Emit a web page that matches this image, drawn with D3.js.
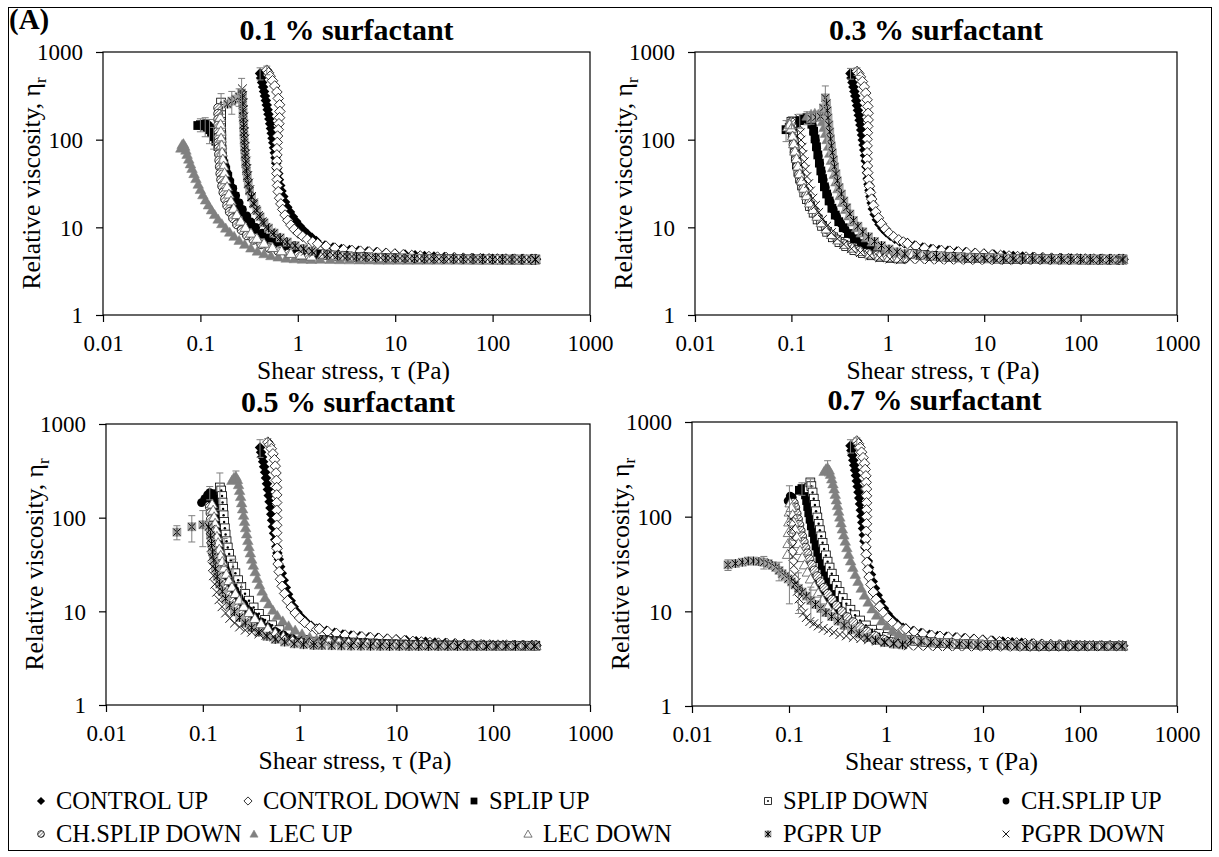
<!DOCTYPE html>
<html>
<head>
<meta charset="utf-8">
<script src="https://cdn.jsdelivr.net/npm/d3@7"></script>
<style>
body { margin: 0; background: #fff; }
text { font-family: "Liberation Serif", "Times New Roman", serif; fill: #000; }
</style>
</head>
<body>
<svg id="chart" width="1219" height="857"></svg>
<script>
// ---- labels ----
const seriesNames = ["CONTROL UP", "CONTROL DOWN", "SPLIP UP", "SPLIP DOWN", "CH.SPLIP UP",
  "CH.SPLIP DOWN", "LEC UP", "LEC DOWN", "PGPR UP", "PGPR DOWN"];
const seriesKeys = ["cu", "cd", "su", "sd", "chu", "chd", "lu", "ld", "pu", "pd"];
const panelTitles = ["0.1 % surfactant", "0.3 % surfactant", "0.5 % surfactant", "0.7 % surfactant"];
const xTicks = [0.01, 0.1, 1, 10, 100, 1000];
const xTickLabels = ["0.01", "0.1", "1", "10", "100", "1000"];
const yTicks = [1, 10, 100, 1000];
const yTickLabels = ["1", "10", "100", "1000"];

// ---- plateau parts (tau Pa, eta_r), where the curves run together ----
const tailCtl = [[1.6,6.6],[1.9,6.2],[2.3,5.9],[2.8,5.65],[3.4,5.5],[4.2,5.4],[5.2,5.3],[6.4,5.2],[8,5.1],[10,5],[12.6,4.9],[16,4.8],[20,4.72],[25,4.65],[32,4.58],[40,4.52],[50,4.47],[63,4.43],[80,4.4],[100,4.38],[126,4.36],[160,4.35],[200,4.34],[250,4.33],[278,4.33]];
const tailCtl2 = [[1.6,6.5],[1.95,6.1],[2.4,5.8],[2.95,5.58],[3.6,5.45],[4.4,5.35],[5.4,5.25],[6.6,5.15],[8.1,5.05],[9.9,4.96],[12.1,4.87],[14.8,4.78],[18.1,4.71],[22.2,4.64],[27.2,4.58],[33.3,4.53],[40.8,4.49],[50,4.45],[61,4.42],[75,4.4],[92,4.38],[112,4.36],[137,4.35],[168,4.34],[206,4.33],[252,4.33],[275,4.33]];
const tailA = [[1.8,4.95],[2.3,4.82],[2.9,4.72],[3.6,4.65],[4.5,4.59],[5.7,4.54],[7.1,4.5],[8.9,4.46],[11.2,4.43],[14.1,4.4],[17.8,4.38],[22.4,4.36],[28.2,4.34],[35.5,4.33],[44.7,4.32],[56,4.31],[71,4.3],[89,4.3],[112,4.29],[141,4.29],[178,4.29],[224,4.29],[272,4.3]];
const tailB = [[2,4.85],[2.55,4.74],[3.2,4.66],[4,4.6],[5,4.55],[6.3,4.5],[8,4.47],[10,4.44],[12.6,4.41],[15.8,4.39],[19.9,4.37],[25,4.35],[31.6,4.34],[39.8,4.33],[50,4.32],[63,4.31],[79,4.3],[100,4.3],[126,4.3],[158,4.29],[199,4.29],[250,4.29],[275,4.3]];
const tailLow = [[1.7,4.32],[2.15,4.3],[2.7,4.28],[3.4,4.26],[4.3,4.25],[5.4,4.24],[6.8,4.23],[8.5,4.22],[10.7,4.22],[13.5,4.21],[17,4.21],[21.4,4.21],[27,4.21],[34,4.21],[42.7,4.21],[53.8,4.21],[67.7,4.21],[85,4.22],[107,4.22],[135,4.23],[170,4.23],[214,4.24],[265,4.25]];

// ---- 0.1 % surfactant ----
const p1CtrlUp = [[0.41,570],[0.42,505],[0.43,450],[0.44,400],[0.45,355],[0.46,315],[0.47,280],[0.48,248],[0.49,220],[0.5,195],[0.51,172],[0.52,152],[0.53,134],[0.54,118],[0.55,104],[0.56,92],[0.57,81],[0.58,71],[0.59,62],[0.6,54],[0.61,47],[0.63,41],[0.64,35],[0.66,30],[0.68,26],[0.71,22.5],[0.74,19.5],[0.78,17],[0.83,15],[0.89,13.2],[0.96,11.7],[1.04,10.4],[1.14,9.3],[1.26,8.4],[1.4,7.6],[1.55,7]];
const p1CtrlDown = [[0.48,620],[0.5,580],[0.52,530],[0.55,470],[0.58,410],[0.61,350],[0.63,295],[0.65,250],[0.655,210],[0.65,178],[0.64,152],[0.63,130],[0.62,110],[0.615,93],[0.61,79],[0.61,67],[0.61,57],[0.61,48],[0.61,41],[0.615,35],[0.62,30],[0.63,25.5],[0.65,21.5],[0.67,18.5],[0.7,16],[0.74,13.8],[0.79,12],[0.85,10.6],[0.92,9.5],[1.01,8.6],[1.12,7.9],[1.25,7.3],[1.42,6.8]];
const p1SplipUp = [[0.094,145],[0.1,148],[0.106,146],[0.112,143],[0.118,138],[0.124,130],[0.13,120],[0.137,108],[0.144,96],[0.151,84],[0.158,72],[0.166,62],[0.174,53],[0.182,45],[0.191,38],[0.2,32],[0.212,27],[0.226,22.5],[0.242,18.7],[0.262,15.6],[0.286,13.1],[0.315,11.1],[0.35,9.6],[0.4,8.4],[0.46,7.5],[0.54,6.7],[0.65,6.1],[0.8,5.6],[1,5.3],[1.3,5.05],[1.6,4.95]];
const p1SplipDown = [[0.163,265],[0.163,225],[0.163,190],[0.163,160],[0.163,135],[0.164,112],[0.164,93],[0.165,77],[0.166,64],[0.168,53],[0.17,44],[0.174,36],[0.179,30],[0.186,25],[0.195,20.8],[0.207,17.3],[0.224,14.4],[0.246,12],[0.275,10.1],[0.315,8.7],[0.37,7.6],[0.44,6.7],[0.54,6.05],[0.67,5.55],[0.85,5.2],[1.1,4.98],[1.4,4.88]];
const p1ChSplipUp = [[0.105,150],[0.11,152],[0.116,150],[0.122,145],[0.128,136],[0.134,125],[0.14,112],[0.147,98],[0.154,85],[0.162,72],[0.17,60],[0.18,50],[0.19,41],[0.2,34],[0.215,28],[0.23,23],[0.25,19],[0.27,16],[0.3,13.5],[0.33,11.5],[0.37,10],[0.43,8.6],[0.5,7.6],[0.6,6.8],[0.75,6.1],[0.95,5.6],[1.2,5.2],[1.5,5]];
const p1ChSplipDown = [[0.152,230],[0.152,198],[0.152,170],[0.152,146],[0.152,126],[0.153,108],[0.153,93],[0.154,80],[0.155,68],[0.156,58],[0.158,49],[0.16,41],[0.163,35],[0.167,29.5],[0.172,25],[0.179,21],[0.188,17.7],[0.2,15],[0.216,12.7],[0.237,10.8],[0.265,9.3],[0.3,8.1],[0.35,7.2],[0.42,6.4],[0.51,5.8],[0.63,5.35],[0.8,5],[1.02,4.8],[1.3,4.65]];
const p1LecUp = [[0.063,80],[0.065,88],[0.067,90],[0.069,84],[0.071,76],[0.073,68],[0.076,60],[0.079,53],[0.082,47],[0.086,41],[0.09,36],[0.095,31],[0.1,27],[0.106,23.5],[0.113,20.5],[0.121,18],[0.13,15.8],[0.14,14],[0.152,12.4],[0.166,11],[0.182,9.8],[0.2,8.8],[0.222,7.9],[0.25,7.1],[0.285,6.4],[0.33,5.8],[0.385,5.35],[0.45,5],[0.53,4.75],[0.63,4.58],[0.76,4.45],[0.92,4.38],[1.12,4.33],[1.38,4.3]];
const p1LecDown = [[0.16,180],[0.161,150],[0.162,125],[0.163,104],[0.165,87],[0.167,72],[0.17,60],[0.173,50],[0.177,42],[0.182,35],[0.188,29],[0.196,24],[0.206,20],[0.22,16.5],[0.237,14],[0.26,11.8],[0.29,10],[0.33,8.6],[0.38,7.5],[0.45,6.6],[0.55,5.9],[0.68,5.4],[0.85,5.05],[1.08,4.85],[1.38,4.7]];
const p1PgprUp = [[0.19,255],[0.21,275],[0.23,290],[0.25,310],[0.265,340],[0.27,300],[0.272,250],[0.274,205],[0.276,168],[0.278,138],[0.28,113],[0.282,93],[0.285,77],[0.288,64],[0.292,53],[0.297,44],[0.303,37],[0.31,31],[0.32,26],[0.335,22],[0.355,18.5],[0.38,15.5],[0.41,13.2],[0.45,11.3],[0.5,9.8],[0.57,8.6],[0.66,7.6],[0.78,6.8],[0.94,6.2],[1.15,5.7],[1.4,5.35]];
const p1PgprDown = [[0.27,380],[0.272,320],[0.274,265],[0.276,220],[0.278,182],[0.28,150],[0.282,124],[0.285,102],[0.288,84],[0.291,69],[0.295,57],[0.3,47],[0.306,39],[0.313,32],[0.322,27],[0.335,22.5],[0.35,19],[0.37,16],[0.395,13.6],[0.43,11.6],[0.47,10],[0.53,8.7],[0.6,7.7],[0.7,6.9],[0.83,6.2],[1,5.7],[1.2,5.35],[1.45,5.1]];
const p1Err = [[0.1,148,25],[0.112,143,35],[0.124,130,40],[0.163,265,70],[0.21,275,80],[0.25,310,70],[0.265,340,160],[0.41,570,90],[0.48,620,70],[0.158,72,25],[0.137,108,30]];

// ---- 0.3 % surfactant ----
const p2CtrlUp = [[0.41,570],[0.42,505],[0.43,450],[0.44,400],[0.45,355],[0.46,315],[0.47,278],[0.48,245],[0.49,216],[0.5,190],[0.51,167],[0.52,147],[0.53,129],[0.54,113],[0.55,99],[0.56,87],[0.57,76],[0.58,66],[0.59,57],[0.6,49],[0.61,42],[0.62,36],[0.63,31],[0.645,26.5],[0.66,22.5],[0.68,19],[0.7,16.2],[0.73,14],[0.77,12.2],[0.82,10.8],[0.88,9.7],[0.96,8.8],[1.06,8],[1.18,7.4],[1.33,6.9],[1.5,6.6]];
const p2CtrlDown = [[0.48,600],[0.5,570],[0.52,520],[0.545,460],[0.57,400],[0.59,340],[0.61,285],[0.62,240],[0.625,200],[0.625,168],[0.62,142],[0.615,120],[0.61,101],[0.61,85],[0.61,71],[0.61,60],[0.615,50],[0.62,42],[0.63,35],[0.645,29.5],[0.66,25],[0.68,21],[0.71,17.8],[0.75,15],[0.8,12.8],[0.86,11],[0.94,9.6],[1.03,8.6],[1.15,7.8],[1.3,7.2],[1.45,6.8]];
const p2SplipUp = [[0.088,130],[0.095,138],[0.103,146],[0.112,155],[0.122,165],[0.133,172],[0.145,178],[0.155,170],[0.163,150],[0.17,125],[0.176,102],[0.182,83],[0.188,67],[0.195,54],[0.202,44],[0.21,36],[0.22,29],[0.232,24],[0.246,20],[0.263,16.5],[0.285,13.8],[0.31,11.6],[0.345,9.9],[0.39,8.5],[0.45,7.4],[0.53,6.5],[0.64,5.9],[0.78,5.4],[0.97,5.05],[1.2,4.85],[1.5,4.7]];
const p2SplipDown = [[0.1,160],[0.102,135],[0.104,112],[0.106,92],[0.108,76],[0.111,63],[0.114,52],[0.118,43],[0.123,36],[0.129,30],[0.136,25],[0.145,21],[0.156,17.5],[0.17,14.7],[0.187,12.3],[0.208,10.4],[0.235,8.9],[0.27,7.7],[0.315,6.8],[0.37,6.1],[0.45,5.5],[0.55,5.1],[0.68,4.8],[0.85,4.6],[1.07,4.48],[1.35,4.4]];
const p2ChSplipUp = [[0.14,175],[0.15,180],[0.158,168],[0.165,145],[0.171,120],[0.177,98],[0.183,80],[0.19,65],[0.197,53],[0.205,43],[0.214,35],[0.225,28.5],[0.238,23.5],[0.253,19.5],[0.272,16],[0.295,13.3],[0.325,11.2],[0.36,9.6],[0.41,8.3],[0.47,7.3],[0.56,6.5],[0.68,5.9],[0.83,5.4],[1.03,5.05],[1.3,4.85]];
const p2ChSplipDown = [[0.1,158],[0.101,130],[0.103,107],[0.105,88],[0.108,72],[0.111,59],[0.115,49],[0.12,40],[0.126,33],[0.133,27.5],[0.142,23],[0.153,19],[0.166,16],[0.182,13.4],[0.202,11.3],[0.228,9.6],[0.26,8.3],[0.3,7.3],[0.35,6.5],[0.42,5.9],[0.51,5.4],[0.63,5.05],[0.78,4.8],[0.98,4.62],[1.23,4.5],[1.5,4.42]];
const p2LecUp = [[0.145,185],[0.16,195],[0.175,200],[0.19,195],[0.2,180],[0.21,160],[0.218,138],[0.226,118],[0.234,100],[0.242,84],[0.25,70],[0.259,58],[0.268,48],[0.278,40],[0.29,33],[0.304,27.5],[0.32,23],[0.34,19.2],[0.365,16],[0.395,13.5],[0.43,11.5],[0.475,9.9],[0.53,8.6],[0.6,7.6],[0.69,6.8],[0.8,6.1],[0.95,5.6],[1.13,5.2],[1.35,4.95]];
const p2LecDown = [[0.092,140],[0.096,150],[0.1,135],[0.103,110],[0.106,90],[0.109,74],[0.113,61],[0.117,50],[0.122,41],[0.128,34],[0.135,28],[0.144,23],[0.155,19],[0.168,16],[0.185,13.4],[0.205,11.3],[0.23,9.6],[0.262,8.3],[0.305,7.2],[0.36,6.4],[0.43,5.8],[0.52,5.3],[0.65,4.95],[0.82,4.7],[1.03,4.55],[1.3,4.45]];
const p2PgprUp = [[0.16,175],[0.18,180],[0.2,185],[0.215,230],[0.225,300],[0.232,260],[0.236,215],[0.24,178],[0.245,148],[0.25,123],[0.255,102],[0.26,85],[0.266,71],[0.273,59],[0.28,49],[0.29,41],[0.3,34],[0.313,28.5],[0.33,24],[0.35,20],[0.375,16.8],[0.405,14.2],[0.44,12],[0.49,10.3],[0.55,8.9],[0.63,7.8],[0.73,6.9],[0.86,6.2],[1.03,5.65],[1.25,5.25],[1.5,5]];
const p2PgprDown = [[0.12,175],[0.122,145],[0.124,120],[0.126,99],[0.129,82],[0.132,68],[0.136,56],[0.14,46],[0.145,38],[0.151,31.5],[0.158,26],[0.167,21.5],[0.178,17.8],[0.192,14.8],[0.21,12.3],[0.232,10.3],[0.26,8.7],[0.3,7.4],[0.35,6.4],[0.42,5.7],[0.52,5.15],[0.65,4.75],[0.82,4.5],[1.05,4.35],[1.35,4.27]];
const p2Err = [[0.088,130,35],[0.1,158,25],[0.122,165,30],[0.145,178,30],[0.16,175,25],[0.2,185,20],[0.225,300,110],[0.41,570,80],[0.48,600,60]];

// ---- 0.5 % surfactant ----
const p3CtrlUp = [[0.39,560],[0.4,500],[0.41,445],[0.42,395],[0.43,350],[0.44,305],[0.45,265],[0.46,230],[0.47,200],[0.48,172],[0.49,148],[0.5,127],[0.51,109],[0.52,94],[0.53,80],[0.545,68],[0.56,58],[0.575,49],[0.59,42],[0.61,36],[0.63,30],[0.655,25.5],[0.685,21.5],[0.72,18],[0.76,15.2],[0.81,13],[0.87,11.2],[0.95,9.8],[1.05,8.6],[1.17,7.7],[1.32,7],[1.5,6.5]];
const p3CtrlDown = [[0.47,640],[0.49,600],[0.51,545],[0.53,480],[0.55,415],[0.56,355],[0.57,300],[0.575,250],[0.58,210],[0.58,175],[0.58,145],[0.58,120],[0.58,100],[0.58,83],[0.58,69],[0.58,57],[0.585,47],[0.59,39],[0.6,32],[0.615,26.5],[0.635,22],[0.66,18.5],[0.7,15.5],[0.75,13],[0.82,11.1],[0.9,9.6],[1,8.5],[1.13,7.6],[1.3,6.9],[1.5,6.4]];
const p3SplipUp = [[0.12,165],[0.128,180],[0.135,175],[0.14,155],[0.144,132],[0.148,112],[0.152,95],[0.156,80],[0.161,68],[0.166,57],[0.172,48],[0.179,40],[0.188,34],[0.198,28.5],[0.21,24],[0.225,20.2],[0.244,17],[0.267,14.4],[0.295,12.2],[0.33,10.4],[0.375,9],[0.43,7.9],[0.5,7],[0.6,6.2],[0.73,5.6],[0.9,5.2],[1.12,4.95],[1.4,4.75]];
const p3SplipDown = [[0.15,210],[0.155,195],[0.158,170],[0.16,145],[0.162,124],[0.164,106],[0.166,90],[0.169,77],[0.172,66],[0.176,56],[0.181,48],[0.187,41],[0.195,35],[0.205,30],[0.217,25.5],[0.232,21.5],[0.25,18.2],[0.273,15.4],[0.3,13],[0.335,11],[0.38,9.4],[0.44,8.1],[0.52,7.1],[0.62,6.3],[0.75,5.7],[0.92,5.25],[1.15,4.95],[1.45,4.75]];
const p3ChSplipUp = [[0.097,145],[0.105,160],[0.112,175],[0.118,185],[0.122,170],[0.125,150],[0.128,128],[0.131,108],[0.134,91],[0.137,77],[0.141,65],[0.145,55],[0.15,46],[0.156,39],[0.163,33],[0.172,28],[0.183,23.5],[0.197,19.8],[0.215,16.7],[0.237,14.1],[0.265,12],[0.3,10.2],[0.345,8.8],[0.4,7.7],[0.47,6.8],[0.56,6.1],[0.68,5.6],[0.83,5.2],[1.03,4.95],[1.28,4.75]];
const p3ChSplipDown = [[0.118,130],[0.12,112],[0.121,96],[0.122,82],[0.123,70],[0.124,60],[0.126,51],[0.128,44],[0.131,38],[0.135,32.5],[0.14,28],[0.147,24],[0.155,20.5],[0.166,17.5],[0.18,15],[0.197,12.8],[0.218,11],[0.245,9.5],[0.28,8.2],[0.325,7.2],[0.38,6.4],[0.45,5.8],[0.55,5.3],[0.68,4.95],[0.85,4.7],[1.07,4.55],[1.35,4.45]];
const p3LecUp = [[0.2,250],[0.21,270],[0.22,275],[0.228,255],[0.234,225],[0.24,195],[0.246,168],[0.252,144],[0.258,124],[0.264,106],[0.27,91],[0.277,78],[0.284,67],[0.292,57],[0.3,49],[0.31,42],[0.32,36],[0.333,31],[0.348,26.5],[0.365,22.5],[0.385,19.2],[0.41,16.4],[0.44,14],[0.48,12],[0.53,10.3],[0.59,9],[0.67,7.9],[0.77,7],[0.9,6.3],[1.06,5.75],[1.27,5.3],[1.5,5]];
const p3LecDown = [[0.125,140],[0.128,120],[0.131,102],[0.134,87],[0.137,74],[0.14,63],[0.144,54],[0.148,46],[0.153,39.5],[0.159,34],[0.166,29],[0.175,25],[0.186,21.3],[0.2,18.2],[0.217,15.5],[0.238,13.2],[0.265,11.3],[0.3,9.7],[0.345,8.4],[0.4,7.4],[0.47,6.6],[0.56,5.9],[0.68,5.4],[0.84,5],[1.05,4.75],[1.32,4.6]];
const p3PgprUp = [[0.054,70],[0.077,80],[0.1,84],[0.115,80],[0.12,65],[0.123,53],[0.126,43],[0.13,35],[0.135,28.5],[0.141,23.5],[0.149,19.5],[0.159,16.3],[0.172,13.7],[0.19,11.6],[0.212,9.9],[0.24,8.6],[0.275,7.5],[0.32,6.7],[0.38,6],[0.46,5.4],[0.56,5],[0.7,4.7],[0.88,4.5],[1.1,4.4],[1.4,4.32]];
const p3PgprDown = [[0.12,75],[0.121,60],[0.122,48],[0.124,38],[0.126,30],[0.129,24],[0.133,19.5],[0.139,16],[0.147,13.3],[0.158,11.2],[0.172,9.6],[0.19,8.4],[0.213,7.5],[0.24,6.8],[0.275,6.3],[0.32,6],[0.38,5.75],[0.45,5.55],[0.54,5.35],[0.65,5.15],[0.78,5],[0.95,4.85],[1.15,4.72],[1.4,4.62]];
const p3Err = [[0.054,70,12],[0.077,80,25],[0.1,84,35],[0.15,210,90],[0.22,275,40],[0.39,560,120],[0.47,640,60],[0.118,185,30],[0.166,45,15],[0.205,28,8],[0.25,16,4]];

// ---- 0.7 % surfactant ----
const p4CtrlUp = [[0.43,560],[0.44,500],[0.45,445],[0.46,395],[0.47,350],[0.48,310],[0.49,272],[0.5,238],[0.51,208],[0.52,181],[0.53,157],[0.54,136],[0.55,117],[0.56,101],[0.57,87],[0.58,75],[0.59,64],[0.6,55],[0.615,47],[0.63,40],[0.65,34],[0.67,29],[0.7,24.5],[0.73,20.7],[0.77,17.5],[0.82,14.8],[0.88,12.6],[0.95,10.8],[1.04,9.4],[1.15,8.3],[1.3,7.4],[1.5,6.7]];
const p4CtrlDown = [[0.5,630],[0.52,590],[0.54,540],[0.56,480],[0.58,420],[0.6,365],[0.61,315],[0.62,270],[0.625,230],[0.63,196],[0.63,166],[0.63,140],[0.63,118],[0.63,100],[0.63,84],[0.625,70],[0.62,58],[0.62,48],[0.625,40],[0.635,33],[0.65,27.5],[0.67,23],[0.7,19.2],[0.74,16],[0.79,13.4],[0.86,11.3],[0.94,9.7],[1.04,8.5],[1.17,7.6],[1.33,6.9],[1.5,6.4]];
const p4SplipUp = [[0.128,190],[0.136,198],[0.143,190],[0.148,170],[0.152,148],[0.156,128],[0.16,110],[0.165,94],[0.17,80],[0.176,68],[0.183,58],[0.19,49],[0.198,42],[0.208,36],[0.22,30.5],[0.234,26],[0.25,22],[0.27,18.7],[0.295,15.8],[0.325,13.4],[0.36,11.4],[0.405,9.8],[0.46,8.5],[0.53,7.4],[0.62,6.6],[0.74,5.9],[0.9,5.4],[1.1,5.05],[1.35,4.8]];
const p4SplipDown = [[0.16,200],[0.166,230],[0.17,210],[0.175,180],[0.18,155],[0.185,133],[0.19,114],[0.196,98],[0.202,84],[0.208,72],[0.215,62],[0.222,53],[0.23,45.5],[0.24,39],[0.25,33.5],[0.262,29],[0.276,25],[0.292,21.5],[0.31,18.5],[0.332,16],[0.358,13.8],[0.39,12],[0.43,10.4],[0.48,9.1],[0.54,8],[0.62,7.1],[0.72,6.4],[0.85,5.8],[1.02,5.35],[1.23,5.05],[1.5,4.82]];
const p4ChSplipUp = [[0.098,147],[0.103,165],[0.108,160],[0.112,140],[0.115,120],[0.118,102],[0.121,87],[0.125,74],[0.129,63],[0.134,54],[0.14,46],[0.147,39.5],[0.155,34],[0.165,29],[0.177,25],[0.191,21.5],[0.208,18.5],[0.228,16],[0.253,13.8],[0.283,11.9],[0.32,10.3],[0.365,9],[0.42,7.9],[0.49,7],[0.58,6.2],[0.7,5.6],[0.85,5.15],[1.05,4.85],[1.3,4.65]];
const p4ChSplipDown = [[0.112,140],[0.116,125],[0.12,108],[0.124,94],[0.128,82],[0.132,71],[0.137,62],[0.142,54],[0.148,47],[0.155,41],[0.163,35.5],[0.172,31],[0.183,27],[0.196,23.5],[0.212,20.4],[0.23,17.7],[0.252,15.3],[0.278,13.3],[0.31,11.5],[0.35,10],[0.4,8.7],[0.46,7.7],[0.54,6.8],[0.64,6.1],[0.77,5.5],[0.94,5.05],[1.15,4.75],[1.42,4.55]];
const p4LecUp = [[0.23,300],[0.24,320],[0.25,330],[0.26,310],[0.268,280],[0.276,250],[0.284,222],[0.292,196],[0.3,172],[0.308,150],[0.316,131],[0.325,114],[0.334,99],[0.344,86],[0.355,74],[0.367,64],[0.38,55],[0.395,47],[0.412,40],[0.432,34],[0.455,29],[0.482,24.5],[0.515,20.7],[0.555,17.5],[0.6,14.8],[0.655,12.5],[0.72,10.6],[0.8,9.1],[0.9,7.9],[1.02,7],[1.17,6.3],[1.35,5.75],[1.55,5.35]];
const p4LecDown = [[0.097,40],[0.098,52],[0.099,68],[0.1,88],[0.101,112],[0.103,140],[0.106,125],[0.109,105],[0.112,88],[0.116,74],[0.12,62],[0.125,52],[0.13,44],[0.137,37],[0.145,31],[0.155,26],[0.167,22],[0.182,18.5],[0.2,15.6],[0.222,13.2],[0.25,11.2],[0.285,9.6],[0.33,8.3],[0.39,7.2],[0.46,6.4],[0.55,5.8],[0.67,5.3],[0.82,4.95],[1.02,4.7],[1.28,4.55]];
const p4PgprUp = [[0.0235,31],[0.028,32],[0.033,33],[0.038,34],[0.043,34],[0.049,33.5],[0.055,33],[0.061,32],[0.067,30.5],[0.073,29],[0.079,27],[0.085,25],[0.091,23.5],[0.098,22],[0.106,20.5],[0.115,19],[0.125,17.5],[0.137,16],[0.151,14.5],[0.168,13],[0.188,11.8],[0.212,10.7],[0.24,9.7],[0.275,8.8],[0.32,7.9],[0.37,7.1],[0.44,6.4],[0.53,5.8],[0.64,5.3],[0.78,4.95],[0.96,4.7],[1.2,4.52],[1.48,4.42]];
const p4PgprDown = [[0.105,95],[0.106,75],[0.107,60],[0.108,48],[0.11,38],[0.112,30.5],[0.115,24.5],[0.118,20],[0.122,16.3],[0.127,13.5],[0.133,11.3],[0.141,9.6],[0.151,8.6],[0.164,7.8],[0.18,7.4],[0.2,7],[0.225,6.6],[0.255,6.3],[0.29,6],[0.335,5.7],[0.39,5.5],[0.46,5.3],[0.55,5.15],[0.66,5],[0.8,4.85],[0.98,4.72],[1.2,4.6],[1.48,4.5]];
const p4Err = [[0.0235,31,4],[0.055,33,5],[0.079,27,6],[0.101,112,100],[0.136,198,30],[0.166,230,20],[0.25,330,60],[0.43,560,90],[0.5,630,50],[0.168,13,5],[0.212,10.7,4],[0.125,17.5,8]];

// ---- layout ----
const panelBoxes = [
  { l: 103, r: 590, t: 52, b: 315 },
  { l: 695, r: 1177, t: 52, b: 315 },
  { l: 106, r: 590, t: 424, b: 705 },
  { l: 692, r: 1177, t: 422, b: 706 }
];
const legendPos = [[41, 0], [248, 0], [474, 0], [768, 0], [1006, 0], [41, 1], [254, 1], [528, 1], [768, 1], [1006, 1]];
const legendRowY = [809, 842];

const panels = [
  { series: [p1CtrlUp.concat(tailCtl), p1CtrlDown.concat(tailCtl2), p1SplipUp.concat(tailA), p1SplipDown.concat(tailB), p1ChSplipUp.concat(tailA), p1ChSplipDown.concat(tailB), p1LecUp.concat(tailLow), p1LecDown.concat(tailA), p1PgprUp.concat(tailB), p1PgprDown.concat(tailA)], err: p1Err },
  { series: [p2CtrlUp.concat(tailCtl), p2CtrlDown.concat(tailCtl2), p2SplipUp.concat(tailA), p2SplipDown.concat(tailA), p2ChSplipUp.concat(tailB), p2ChSplipDown.concat(tailB), p2LecUp.concat(tailA), p2LecDown.concat(tailA), p2PgprUp.concat(tailB), p2PgprDown.concat(tailLow)], err: p2Err },
  { series: [p3CtrlUp.concat(tailCtl), p3CtrlDown.concat(tailCtl2), p3SplipUp.concat(tailB), p3SplipDown.concat(tailA), p3ChSplipUp.concat(tailA), p3ChSplipDown.concat(tailB), p3LecUp.concat(tailA), p3LecDown.concat(tailB), p3PgprUp.concat(tailLow), p3PgprDown.concat(tailA)], err: p3Err },
  { series: [p4CtrlUp.concat(tailCtl), p4CtrlDown.concat(tailCtl2), p4SplipUp.concat(tailB), p4SplipDown.concat(tailA), p4ChSplipUp.concat(tailB), p4ChSplipDown.concat(tailA), p4LecUp.concat(tailA), p4LecDown.concat(tailB), p4PgprUp.concat(tailA), p4PgprDown.concat(tailLow)], err: p4Err }
];

const svg = d3.select('#chart');
const defs = svg.append('defs');
defs.append('pattern').attr('id', 'hatch')
  .attr('patternUnits', 'userSpaceOnUse').attr('width', 2.4).attr('height', 2.4)
  .attr('patternTransform', 'rotate(45)')
  .append('line').attr('x1', 0).attr('y1', 0).attr('x2', 0).attr('y2', 2.4)
  .attr('stroke', '#000').attr('stroke-width', 0.9);

// outer frame
svg.append('rect').attr('x', 8.5).attr('y', 7.5).attr('width', 1203).attr('height', 843)
  .attr('fill', 'none').attr('stroke', '#000').attr('stroke-width', 1);

svg.append('text').attr('x', 9).attr('y', 29).attr('font-size', 29).attr('font-weight', 'bold').text('(A)');

function diamond(s) { return `M0,${-s}L${s},0L0,${s}L${-s},0Z`; }
function triangle(s) { return `M0,${-s}L${s * 1.05},${s * 0.8}L${-s * 1.05},${s * 0.8}Z`; }

const markerDraw = {
  cu: (g, s) => g.append('path').attr('d', diamond(s * 1.2)).attr('fill', '#000'),
  cd: (g, s) => g.append('path').attr('d', diamond(s * 1.2)).attr('fill', '#fff').attr('stroke', '#000').attr('stroke-width', 0.8),
  su: (g, s) => g.append('rect').attr('x', -s).attr('y', -s).attr('width', 2 * s).attr('height', 2 * s).attr('fill', '#000'),
  sd: (g, s) => {
    g.append('rect').attr('x', -s).attr('y', -s).attr('width', 2 * s).attr('height', 2 * s)
      .attr('fill', '#fff').attr('stroke', '#000').attr('stroke-width', 0.8);
    g.append('circle').attr('r', s * 0.28).attr('fill', '#000');
  },
  chu: (g, s) => g.append('circle').attr('r', s).attr('fill', '#000'),
  chd: (g, s) => {
    g.append('circle').attr('r', s).attr('fill', '#fff');
    g.append('circle').attr('r', s).attr('fill', 'url(#hatch)').attr('stroke', '#000').attr('stroke-width', 0.8);
  },
  lu: (g, s) => g.append('path').attr('d', triangle(s * 1.15)).attr('fill', '#808080').attr('stroke', '#808080').attr('stroke-width', 0.5),
  ld: (g, s) => g.append('path').attr('d', triangle(s * 1.15)).attr('fill', '#fff').attr('stroke', '#555').attr('stroke-width', 0.8),
  pu: (g, s) => {
    g.append('rect').attr('x', -s).attr('y', -s).attr('width', 2 * s).attr('height', 2 * s).attr('fill', '#a6a6a6');
    g.append('path').attr('d', `M${-s * 0.8},${-s * 0.8}L${s * 0.8},${s * 0.8}M${s * 0.8},${-s * 0.8}L${-s * 0.8},${s * 0.8}M0,${-s}L0,${s}`)
      .attr('stroke', '#000').attr('stroke-width', 1);
  },
  pd: (g, s) => g.append('path').attr('d', `M${-s},${-s}L${s},${s}M${s},${-s}L${-s},${s}`)
    .attr('stroke', '#000').attr('stroke-width', 0.9)
};

panels.forEach((p, i) => {
  const box = panelBoxes[i];
  const x = d3.scaleLog().domain([0.01, 1000]).range([box.l, box.r]);
  const y = d3.scaleLog().domain([1, 1000]).range([box.b, box.t]);
  const g = svg.append('g');

  g.append('rect').attr('x', box.l).attr('y', box.t).attr('width', box.r - box.l).attr('height', box.b - box.t)
    .attr('fill', 'none').attr('stroke', '#000').attr('stroke-width', 1.2);

  const xa = g.append('g').attr('transform', `translate(0,${box.b})`)
    .call(d3.axisBottom(x).tickValues(xTicks).tickFormat(d => xTickLabels[xTicks.indexOf(d)]).tickSize(7).tickSizeOuter(0));
  xa.select('.domain').remove();
  xa.selectAll('line').attr('stroke', '#000').attr('stroke-width', 1.2);
  xa.selectAll('text').attr('y', 36).attr('dy', null).attr('font-size', 23)
    .attr('font-family', '"Liberation Serif", "Times New Roman", serif').attr('fill', '#000');

  const ya = g.append('g').attr('transform', `translate(${box.l},0)`)
    .call(d3.axisLeft(y).tickValues(yTicks).tickFormat(d => yTickLabels[yTicks.indexOf(d)]).tickSize(7).tickSizeOuter(0));
  ya.select('.domain').remove();
  ya.selectAll('line').attr('stroke', '#000').attr('stroke-width', 1.2);
  ya.selectAll('text').attr('x', -20).attr('dy', '0.34em').attr('font-size', 23)
    .attr('font-family', '"Liberation Serif", "Times New Roman", serif').attr('fill', '#000');

  // titles
  g.append('text').attr('x', (box.l + box.r) / 2).attr('y', box.t - 12)
    .attr('text-anchor', 'middle').attr('font-size', 30).attr('font-weight', 'bold').text(panelTitles[i]);
  g.append('text').attr('x', (box.l + box.r) / 2 + 7).attr('y', box.b + 64)
    .attr('text-anchor', 'middle').attr('font-size', 25.5).text('Shear stress, τ (Pa)');
  const yt = g.append('text').attr('transform', `translate(${box.l - 63},${(box.t + box.b) / 2}) rotate(-90)`)
    .attr('text-anchor', 'middle').attr('font-size', 25.5);
  yt.append('tspan').text('Relative viscosity, η');
  yt.append('tspan').attr('font-size', 17).attr('dy', 6).text('r');

  // markers, in series order (later ones on top)
  p.series.forEach((pts, k) => {
    const key = seriesKeys[k];
    g.append('g').selectAll('g').data(pts).join('g')
      .attr('transform', d => `translate(${x(d[0])},${y(d[1])})`)
      .each(function () { markerDraw[key](d3.select(this), 4.4); });
  });

  // error bars
  const eb = g.append('g').attr('stroke', '#7f7f7f').attr('stroke-width', 1);
  p.err.forEach(e => {
    const cx = x(e[0]);
    const y1 = y(e[1] + e[2]);
    const y0 = y(Math.max(e[1] - e[2], 1.01));
    eb.append('line').attr('x1', cx).attr('x2', cx).attr('y1', y1).attr('y2', y0);
    eb.append('line').attr('x1', cx - 3.5).attr('x2', cx + 3.5).attr('y1', y1).attr('y2', y1);
    eb.append('line').attr('x1', cx - 3.5).attr('x2', cx + 3.5).attr('y1', y0).attr('y2', y0);
  });
});

// legend
const lg = svg.append('g');
seriesNames.forEach((name, k) => {
  const [mx, row] = legendPos[k];
  const by = legendRowY[row];
  const m = lg.append('g').attr('transform', `translate(${mx},${by - 8})`);
  markerDraw[seriesKeys[k]](m, 3.4);
  lg.append('text').attr('x', mx + 15).attr('y', by).attr('font-size', 24.5).text(name);
});
</script>
</body>
</html>
